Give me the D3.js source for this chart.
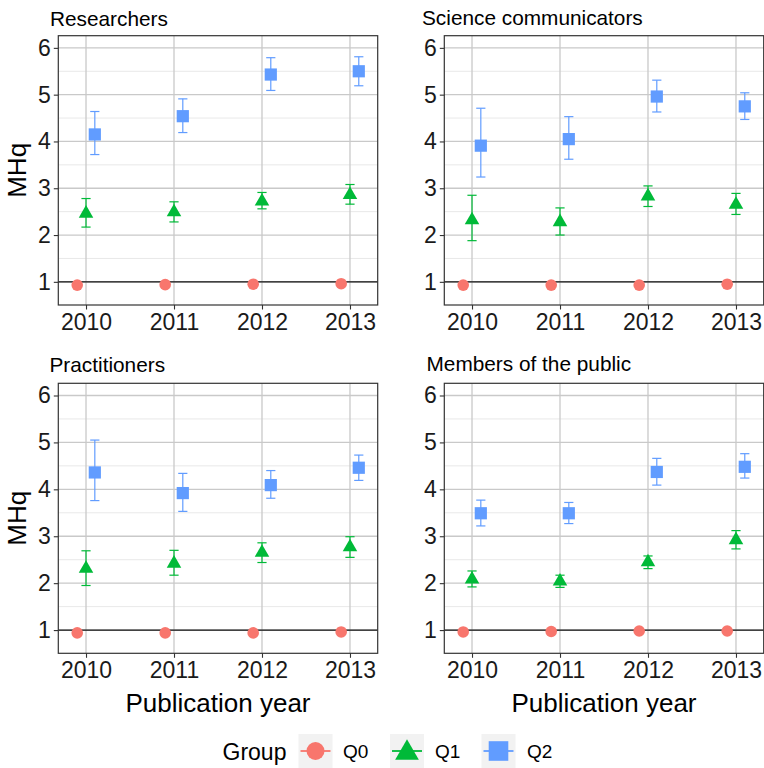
<!DOCTYPE html>
<html>
<head>
<meta charset="utf-8">
<script src="https://cdn.jsdelivr.net/npm/d3@7"></script>
<style>
  html, body { margin: 0; padding: 0; background: #fff; }
  svg { display: block; font-family: "Liberation Sans", Arial, Helvetica, sans-serif; }
</style>
</head>
<body>
<svg id="chart" width="764" height="768"></svg>
<script>
// Publication years on the x axis
const years = [2010, 2011, 2012, 2013];
const groups = ["Q0", "Q1", "Q2"];
const groupColors = ["#F8766D", "#00BA38", "#619CFF"];
const yTicks = [1, 2, 3, 4, 5, 6];
const yMinor = [1.5, 2.5, 3.5, 4.5, 5.5];
const panelTitles = ["Researchers", "Science communicators", "Practitioners", "Members of the public"];

// MHq per audience: Q0 means, Q1/Q2 means with lower/upper bounds
const researchersQ0 = [0.93, 0.94, 0.95, 0.96];
const researchersQ1 = [2.46, 2.49, 2.72, 2.86];
const researchersQ1Lo = [2.17, 2.28, 2.56, 2.66];
const researchersQ1Hi = [2.78, 2.71, 2.91, 3.08];
const researchersQ2 = [4.15, 4.54, 5.43, 5.50];
const researchersQ2Lo = [3.72, 4.19, 5.09, 5.19];
const researchersQ2Hi = [4.64, 4.91, 5.79, 5.81];

const communicatorsQ0 = [0.93, 0.93, 0.93, 0.95];
const communicatorsQ1 = [2.32, 2.28, 2.83, 2.65];
const communicatorsQ1Lo = [1.88, 2.00, 2.61, 2.44];
const communicatorsQ1Hi = [2.85, 2.58, 3.05, 2.89];
const communicatorsQ2 = [3.91, 4.05, 4.96, 4.75];
const communicatorsQ2Lo = [3.24, 3.62, 4.63, 4.47];
const communicatorsQ2Hi = [4.71, 4.53, 5.31, 5.04];

const practitionersQ0 = [0.94, 0.94, 0.94, 0.96];
const practitionersQ1 = [2.31, 2.42, 2.65, 2.77];
const practitionersQ1Lo = [1.95, 2.17, 2.44, 2.55];
const practitionersQ1Hi = [2.69, 2.70, 2.86, 2.99];
const practitionersQ2 = [4.36, 3.92, 4.09, 4.46];
const practitionersQ2Lo = [3.76, 3.53, 3.81, 4.19];
const practitionersQ2Hi = [5.05, 4.34, 4.40, 4.73];

const publicQ0 = [0.96, 0.97, 0.98, 0.98];
const publicQ1 = [2.08, 2.04, 2.45, 2.92];
const publicQ1Lo = [1.92, 1.91, 2.31, 2.73];
const publicQ1Hi = [2.26, 2.17, 2.58, 3.12];
const publicQ2 = [3.49, 3.49, 4.37, 4.48];
const publicQ2Lo = [3.22, 3.27, 4.09, 4.24];
const publicQ2Hi = [3.77, 3.72, 4.66, 4.76];

const panelData = [
  { q0: researchersQ0, q1: [researchersQ1, researchersQ1Lo, researchersQ1Hi], q2: [researchersQ2, researchersQ2Lo, researchersQ2Hi] },
  { q0: communicatorsQ0, q1: [communicatorsQ1, communicatorsQ1Lo, communicatorsQ1Hi], q2: [communicatorsQ2, communicatorsQ2Lo, communicatorsQ2Hi] },
  { q0: practitionersQ0, q1: [practitionersQ1, practitionersQ1Lo, practitionersQ1Hi], q2: [practitionersQ2, practitionersQ2Lo, practitionersQ2Hi] },
  { q0: publicQ0, q1: [publicQ1, publicQ1Lo, publicQ1Hi], q2: [publicQ2, publicQ2Lo, publicQ2Hi] }
];

// Panel frames (left, right, top, bottom) and title anchors
const frames = [
  { x0: 58.3, x1: 377.7, y0: 35.7, y1: 305, tx: 50, ty: 25.5, yTitle: true, xTitle: false },
  { x0: 444.3, x1: 763.7, y0: 35.7, y1: 305, tx: 422, ty: 24.5, yTitle: false, xTitle: false },
  { x0: 58.3, x1: 377.7, y0: 383.3, y1: 653.3, tx: 49.5, ty: 372, yTitle: true, xTitle: true },
  { x0: 444.3, x1: 763.7, y0: 383.3, y1: 653.3, tx: 426.5, ty: 371, yTitle: false, xTitle: true }
];

const dodge = [-0.1, 0, 0.1];
const svg = d3.select("#chart");

function drawSymbol(g, shape, cx, cy, size, color) {
  if (shape === 0) {
    g.append("circle").attr("cx", cx).attr("cy", cy).attr("r", size).attr("fill", color);
  } else if (shape === 1) {
    const r = 1.5551 * size, xc = 1.3468 * size, yc = 0.7776 * size;
    g.append("path")
      .attr("d", `M${cx},${cy - r}L${cx + xc},${cy + yc}L${cx - xc},${cy + yc}Z`)
      .attr("fill", color);
  } else {
    g.append("rect").attr("x", cx - size).attr("y", cy - size)
      .attr("width", 2 * size).attr("height", 2 * size).attr("fill", color);
  }
}

frames.forEach((f, i) => {
  const x = d3.scaleLinear().domain([2009.685, 2013.315]).range([f.x0, f.x1]);
  const y = d3.scaleLinear().domain([0.505, 6.26]).range([f.y1, f.y0]);
  const g = svg.append("g");

  // grid
  g.selectAll(".minor").data(yMinor).join("line")
    .attr("x1", f.x0).attr("x2", f.x1)
    .attr("y1", d => y(d)).attr("y2", d => y(d))
    .attr("stroke", "#e2e2e2").attr("stroke-width", 0.8);
  g.selectAll(".majorY").data(yTicks).join("line")
    .attr("x1", f.x0).attr("x2", f.x1)
    .attr("y1", d => y(d)).attr("y2", d => y(d))
    .attr("stroke", "#c9c9c9").attr("stroke-width", 1.3);
  g.selectAll(".majorX").data(years).join("line")
    .attr("x1", d => x(d)).attr("x2", d => x(d))
    .attr("y1", f.y0).attr("y2", f.y1)
    .attr("stroke", "#c9c9c9").attr("stroke-width", 1.3);

  // reference line at MHq = 1
  g.append("line").attr("x1", f.x0).attr("x2", f.x1)
    .attr("y1", y(1)).attr("y2", y(1))
    .attr("stroke", "#111").attr("stroke-width", 1.3);

  const d = panelData[i];
  // error bars
  [d.q1, d.q2].forEach((s, k) => {
    const gi = k + 1;
    years.forEach((yr, j) => {
      const cx = x(yr + dodge[gi]);
      const col = groupColors[gi];
      g.append("line").attr("x1", cx).attr("x2", cx)
        .attr("y1", y(s[1][j])).attr("y2", y(s[2][j]))
        .attr("stroke", col).attr("stroke-width", 1.2);
      [s[1][j], s[2][j]].forEach(v => {
        g.append("line").attr("x1", cx - 4.6).attr("x2", cx + 4.6)
          .attr("y1", y(v)).attr("y2", y(v))
          .attr("stroke", col).attr("stroke-width", 1.2);
      });
    });
  });
  // points
  years.forEach((yr, j) => {
    drawSymbol(g, 0, x(yr + dodge[0]), y(d.q0[j]), 5.8, groupColors[0]);
    drawSymbol(g, 1, x(yr + dodge[1]), y(d.q1[0][j]), 5.4, groupColors[1]);
    drawSymbol(g, 2, x(yr + dodge[2]), y(d.q2[0][j]), 6.1, groupColors[2]);
  });

  // panel border
  g.append("rect").attr("x", f.x0).attr("y", f.y0)
    .attr("width", f.x1 - f.x0).attr("height", f.y1 - f.y0)
    .attr("fill", "none").attr("stroke", "#333").attr("stroke-width", 1.2);

  // axes
  const yAxis = d3.axisLeft(y).tickValues(yTicks).tickSize(4.5).tickPadding(3).tickFormat(d3.format("d"));
  const ya = g.append("g").attr("transform", `translate(${f.x0},0)`).call(yAxis);
  const xAxis = d3.axisBottom(x).tickValues(years).tickSize(4.5).tickPadding(4).tickFormat(d3.format("d"));
  const xa = g.append("g").attr("transform", `translate(0,${f.y1})`).call(xAxis);
  [ya, xa].forEach(a => {
    a.select(".domain").remove();
    a.selectAll(".tick line").attr("stroke", "#333").attr("stroke-width", 1.1);
    a.selectAll(".tick text").attr("fill", "#1a1a1a")
      .style("font-size", "23px").style("font-family", "Liberation Sans, Arial, sans-serif");
  });
  xa.selectAll(".tick text").attr("dy", "0.72em");

  // panel title
  g.append("text").attr("x", f.tx).attr("y", f.ty)
    .attr("fill", "#000").style("font-size", "20.8px").text(panelTitles[i]);

  if (f.yTitle) {
    g.append("text")
      .attr("transform", `translate(26,${(f.y0 + f.y1) / 2}) rotate(-90)`)
      .attr("text-anchor", "middle").attr("fill", "#000")
      .style("font-size", "26px").text("MHq");
  }
  if (f.xTitle) {
    g.append("text").attr("x", (f.x0 + f.x1) / 2).attr("y", 712)
      .attr("text-anchor", "middle").attr("fill", "#000")
      .style("font-size", "26px").text("Publication year");
  }
});

// legend
const legend = svg.append("g");
legend.append("text").attr("x", 222.5).attr("y", 759.5)
  .attr("fill", "#000").style("font-size", "23px").text("Group");
const keyX = [298.5, 390, 481.5];
const labelX = [343, 435, 527];
groups.forEach((gname, k) => {
  legend.append("rect").attr("x", keyX[k]).attr("y", 734).attr("width", 34).attr("height", 34)
    .attr("fill", "#f2f2f2");
  legend.append("line").attr("x1", keyX[k] + 2).attr("x2", keyX[k] + 32)
    .attr("y1", 751).attr("y2", 751)
    .attr("stroke", groupColors[k]).attr("stroke-width", 1.8);
  drawSymbol(legend, k, keyX[k] + 17, k === 1 ? 753 : 751, k === 0 ? 9 : (k === 1 ? 8.8 : 9.8), groupColors[k]);
  legend.append("text").attr("x", labelX[k]).attr("y", 758)
    .attr("fill", "#000").style("font-size", "19px").text(gname);
});
</script>
</body>
</html>
